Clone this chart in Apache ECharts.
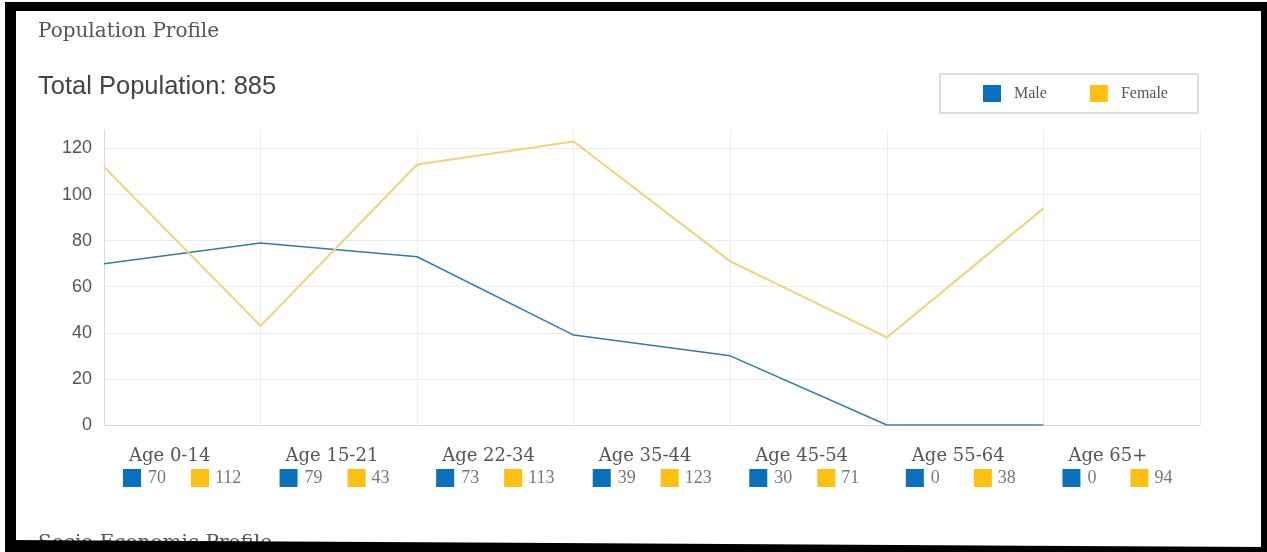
<!DOCTYPE html>
<html>
<head>
<meta charset="utf-8">
<script src="https://cdn.jsdelivr.net/npm/echarts@6.0.0/dist/echarts.min.js"></script>
<style>
  html, body { margin: 0; padding: 0; background: #fff; }
  .frame { position: relative; width: 1267px; height: 552px; overflow: hidden; }
  #chart { position: absolute; left: 0; top: 0; width: 1267px; height: 552px; }
  .edge { position: absolute; background: #000; z-index: 2; }
</style>
</head>
<body>
<div class="frame">
  <div id="chart"></div>
  <div class="edge" style="left:5px;top:2px;width:1262px;height:9px"></div>
  <div class="edge" style="left:5px;top:2px;width:11px;height:550px"></div>
  <div class="edge" style="left:1261px;top:2px;width:6px;height:550px"></div>
  <div class="edge" style="left:5px;top:538px;width:1262px;height:14px;clip-path:polygon(0 2px,100% 9px,100% 100%,0 100%)"></div>
</div>
<script>
  // values
  const ageGroups = ['Age 0-14', 'Age 15-21', 'Age 22-34', 'Age 35-44', 'Age 45-54', 'Age 55-64', 'Age 65+']
  const maleData = [70, 79, 73, 39, 30, 0, 0]
  const femaleData = [112, 43, 113, 123, 71, 38, 94]

  const maleColor = '#0b6fbd'
  const femaleColor = '#fdc013'
  const maleLine = '#347aa8'
  const femaleLine = '#f2d275'

  let chart = null
  const total = maleData.concat(femaleData).reduce((a, b) => a + b, 0)

  // extra empty slot so the grid runs one column past the last group
  const categories = ageGroups.concat([''])

  const initChart = () => {
    chart = echarts.init(document.getElementById('chart'))
    setOptions()
  }

  const setOptions = () => {
    chart.setOption({
      animation: false,
      title: [
        {
          text: 'Population Profile',
          left: 38,
          top: 22,
          padding: 0,
          textStyle: { fontFamily: 'DejaVu Serif', fontSize: 20, fontWeight: 'normal', color: '#555' },
        },
        {
          text: 'Total Population: ' + total,
          left: 38,
          top: 74,
          padding: 0,
          textStyle: { fontFamily: 'Liberation Sans', fontSize: 25.5, fontWeight: 'normal', color: '#444' },
        },
        {
          text: 'Socio Economic Profile',
          left: 38,
          top: 534,
          padding: 0,
          textStyle: { fontFamily: 'DejaVu Serif', fontSize: 20, fontWeight: 'normal', color: '#555' },
        },
      ],
      legend: {
        left: 940,
        top: 74,
        padding: [11, 30, 11, 43],
        itemGap: 43,
        itemWidth: 18,
        itemHeight: 17,
        icon: 'rect',
        borderColor: '#dedede',
        borderWidth: 2,
        textStyle: { fontFamily: 'Liberation Serif', fontSize: 16, color: '#555', padding: [0, 0, 0, 8] },
        data: [
          { name: 'Male', itemStyle: { color: maleColor } },
          { name: 'Female', itemStyle: { color: femaleColor } },
        ],
      },
      grid: {
        left: 104,
        right: 67,
        top: 130,
        bottom: 127,
      },
      xAxis: {
        type: 'category',
        boundaryGap: false,
        data: categories,
        axisLine: { lineStyle: { color: '#d8d8d8' } },
        axisTick: { show: false },
        splitLine: { show: true, lineStyle: { color: '#ececec' } },
        axisLabel: {
          interval: 0,
          align: 'left',
          verticalAlign: 'top',
          margin: 20,
          padding: [0, 0, 0, 19],
          formatter: (value, index) => {
            if (!value) {
              return ''
            }
            return '{t|' + value + '}\n{m|}{a|' + maleData[index] + '}{f|}{b|' + femaleData[index] + '}'
          },
          rich: {
            t: { fontFamily: 'DejaVu Serif', fontSize: 18, color: '#555', lineHeight: 22, padding: [0, 0, 0, 6] },
            m: { width: 18, height: 18, backgroundColor: maleColor },
            a: { fontFamily: 'Liberation Serif', fontSize: 18, color: '#777', width: 43, padding: [0, 0, 0, 7], lineHeight: 22 },
            f: { width: 18, height: 18, backgroundColor: femaleColor },
            b: { fontFamily: 'Liberation Serif', fontSize: 18, color: '#777', padding: [0, 0, 0, 6], lineHeight: 22 },
          },
        },
      },
      yAxis: {
        type: 'value',
        min: 0,
        max: 128,
        interval: 20,
        axisLine: { show: true, lineStyle: { color: '#d8d8d8' } },
        axisTick: { show: false },
        // last line is the top edge at 128, which the original leaves open
        splitLine: {
          lineStyle: {
            color: ['#ececec', '#ececec', '#ececec', '#ececec', '#ececec', '#ececec', '#ececec', 'rgba(0,0,0,0)'],
          },
        },
        axisLabel: {
          margin: 12,
          fontFamily: 'Liberation Sans',
          fontSize: 18,
          color: '#555',
          formatter: (v) => (v % 20 === 0 ? v : ''),
        },
      },
      series: [
        {
          name: 'Male',
          type: 'line',
          data: maleData,
          showSymbol: false,
          itemStyle: { color: maleColor },
          lineStyle: { color: maleLine, width: 1.5 },
        },
        {
          name: 'Female',
          type: 'line',
          data: femaleData,
          showSymbol: false,
          itemStyle: { color: femaleColor },
          lineStyle: { color: femaleLine, width: 2 },
        },
      ],
    })
  }

  initChart()
</script>
</body>
</html>
